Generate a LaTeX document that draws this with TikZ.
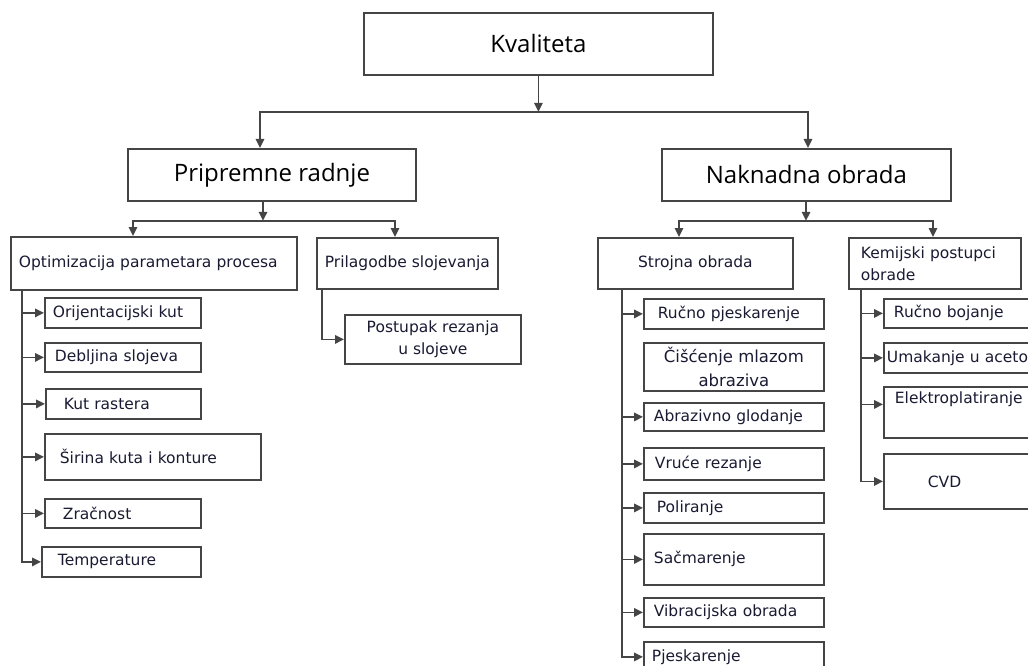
\documentclass[tikz,border=0pt]{standalone}
\usepackage{fontspec}
\setmainfont{DejaVu Sans}
\newfontfamily\headfont{Open Sans}
\usetikzlibrary{arrows.meta,calc}
\definecolor{linecol}{HTML}{454545}
\definecolor{txtcol}{HTML}{1A1A33}
\tikzset{
	box/.style = {draw = linecol, line width = 1.8pt, anchor = north west, align = left, inner sep = 2pt,
		text = txtcol, font = \fontsize{15.5}{22}\selectfont},
	head/.style = {draw = linecol, line width = 1.8pt, anchor = north west, align = center,
		font = \headfont\fontsize{24}{28}\selectfont},
	arr/.style = {draw = linecol, line width = 1.6pt, -{Triangle[length=9pt,width=8.5pt]}}
}
\begin{document}
\begin{tikzpicture}[x = 1pt, y = -1pt]
					\clip (0,0) rectangle (1028,666);
					\fill[white] (0,0) rectangle (1028,666);
					\node[head, minimum width = 349pt, minimum height = 62pt] (kval) at (363,12) {Kvaliteta};
					\node[head, minimum width = 288pt, minimum height = 52pt] (prip) at (127,148) {Pripremne radnje};
					\node[head, minimum width = 289pt, minimum height = 52pt] (nakn) at (661,148) {Naknadna obrada};
					\coordinate (j1) at ($(kval.south)+(0,36)$);
					\draw[arr] (kval.south) -- (j1);
					\draw[arr] (j1) -| ($(prip.north west)+(133,0)$);
					\draw[arr] (j1) -| ($(nakn.north west)+(147,0)$);
					\node[box, minimum width = 286pt, minimum height = 53pt, text width = 270pt] (opt) at (10,236) {Optimizacija parametara procesa};
					\node[box, minimum width = 181pt, minimum height = 51pt, align = center] (prila) at (316,237) {Prilagodbe slojevanja};
					\node[box, minimum width = 195pt, minimum height = 51pt, align = center] (stroj) at (597,237) {Strojna obrada};
					\node[box, minimum width = 172pt, minimum height = 51pt, text width = 148pt] (kemi) at (848,237) {Kemijski postupci\\obrade};
					\coordinate (j2) at ($(prip.south west)+(136,19)$);
					\draw[arr] (j2 |- prip.south) -- (j2);
					\draw[arr] (j2) -| ($(opt.north west)+(123,0)$);
					\draw[arr] (j2) -| ($(prila.north west)+(79,0)$);
					\coordinate (j3) at ($(nakn.south west)+(145,19)$);
					\draw[arr] (j3 |- nakn.south) -- (j3);
					\draw[arr] (j3) -| ($(stroj.north west)+(82,0)$);
					\draw[arr] (j3) -| ($(kemi.north west)+(85,0)$);
					\node[box, minimum width = 156pt, minimum height = 30pt, text width = 140pt] (orij) at (44,297) {Orijentacijski kut};
					\node[box, minimum width = 156pt, minimum height = 29pt, text width = 136pt] (deblj) at (44,342) {Debljina slojeva};
					\node[box, minimum width = 155pt, minimum height = 30pt, text width = 119pt] (kut) at (45,388) {Kut rastera};
					\node[box, minimum width = 216pt, minimum height = 46pt, text width = 186pt] (sir) at (44,433) {Širina kuta i konture};
					\node[box, minimum width = 156pt, minimum height = 29pt, text width = 120pt] (zrac) at (44,498) {Zračnost};
					\node[box, minimum width = 159pt, minimum height = 30pt, text width = 127pt] (temp) at (41,546) {Temperature};
					\coordinate (s1) at ($(opt.south west)+(12,0)$);
					\draw[arr] (s1) |- (temp.west);
					\foreach \n in {orij,deblj,kut,sir,zrac}
						\draw[arr] (s1 |- \n.west) -- (\n.west);
					\node[box, minimum width = 176pt, minimum height = 49pt, align = center] (post) at (344,314) {Postupak rezanja\\u slojeve};
					\draw[arr] ($(prila.south west)+(6,0)$) |- (post.west);
					\node[box, minimum width = 180pt, minimum height = 30pt, text width = 152pt] (rpjes) at (643,298) {Ručno pjeskarenje};
					\node[box, minimum width = 180pt, minimum height = 48pt, align = center, font = \fontsize{16.5}{24}\selectfont] (cisc) at (643,342) {Čišćenje mlazom\\abraziva};
					\node[box, minimum width = 180pt, minimum height = 28pt, text width = 160pt] (abraz) at (643,402) {Abrazivno glodanje};
					\node[box, minimum width = 180pt, minimum height = 32pt, text width = 158pt] (vruce) at (643,447) {Vruće rezanje};
					\node[box, minimum width = 180pt, minimum height = 30pt, text width = 154pt] (polir) at (643,492) {Poliranje};
					\node[box, minimum width = 180pt, minimum height = 51pt, text width = 160pt] (sacm) at (643,533) {Sačmarenje};
					\node[box, minimum width = 180pt, minimum height = 29pt, text width = 160pt] (vibr) at (643,597) {Vibracijska obrada};
					\node[box, minimum width = 180pt, minimum height = 30pt, text width = 164pt] (pjes) at (643,641) {Pjeskarenje};
					\coordinate (s2) at ($(stroj.south west)+(25,0)$);
					\draw[arr] (s2) |- (pjes.west);
					\foreach \n in {rpjes,abraz,vruce,polir,sacm,vibr}
						\draw[arr] (s2 |- \n.west) -- (\n.west);
					\node[box, minimum width = 170pt, minimum height = 29pt, text width = 150pt] (rboj) at (883,298) {Ručno bojanje};
					\node[box, minimum width = 190pt, minimum height = 30pt, text width = 184pt] (umak) at (883,342) {Umakanje u aceton};
					\node[box, minimum width = 170pt, minimum height = 51pt, text width = 148pt] (elek) at (883,386) {Elektroplatiranje\\\strut};
					\node[box, minimum width = 170pt, minimum height = 55pt, text width = 82pt] (cvd) at (883,453) {CVD};
					\coordinate (s3) at ($(kemi.south west)+(13,0)$);
					\coordinate (e1) at ([yshift = 8pt]elek.west);
					\draw[arr] (s3) |- (cvd.west);
					\foreach \n in {rboj,umak}
						\draw[arr] (s3 |- \n.west) -- (\n.west);
					\draw[arr] (s3 |- e1) -- (e1);
				\end{tikzpicture}
\end{document}
